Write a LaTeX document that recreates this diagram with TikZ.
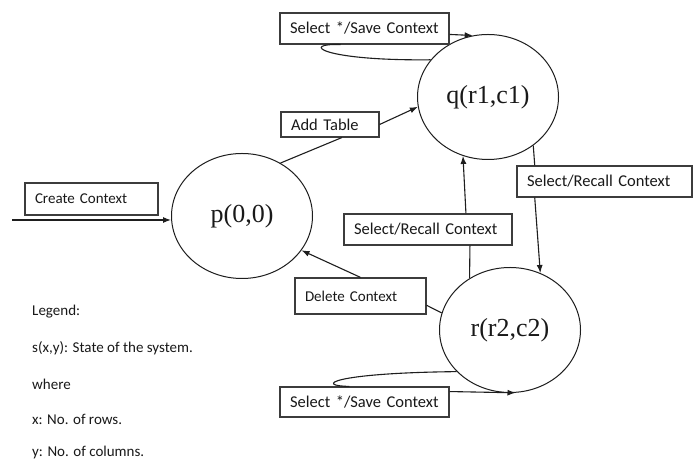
\documentclass[tikz,border=0pt]{standalone}
\usepackage{fontspec}
\setmainfont{Carlito}
\newfontfamily\statefont{Liberation Serif}
\usetikzlibrary{shapes.geometric,arrows.meta}
\definecolor{lineColor}{RGB}{30,30,30}
\definecolor{boxColor}{RGB}{60,60,60}
\definecolor{textColor}{RGB}{25,25,25}
\tikzset{
  state/.style={ellipse,draw=lineColor,line width=1pt,inner sep=0pt,minimum width=141pt,minimum height=125pt,text=textColor,font=\statefont\fontsize{26}{30}\selectfont},
  lbl/.style={rectangle,draw=boxColor,line width=1.2pt,inner xsep=10pt,inner ysep=0pt,align=left,text=textColor,font=\fontsize{16.5}{19}\selectfont},
  legend/.style={anchor=west,inner sep=0pt,text=textColor,font=\fontsize{15}{18}\selectfont},
  conn/.style={draw=lineColor,line width=1.1pt},
  >={Latex[length=8pt,width=6pt]}
}
\begin{document}
\begin{tikzpicture}[x=1pt,y=1pt]
\path[use as bounding box,fill=white] (0,0) rectangle (698,462);

\node[state] (p) at (242,246) {p(0,0)};
\node[state] (q) at (488,365) {q(r1,c1)};
\node[state] (r) at (510,132) {r(r2,c2)};

\node[lbl,text width=113pt,minimum height=32pt,font=\fontsize{15}{18}\selectfont] (create) at (91.5,263) {Create Context};
\node[lbl,text width=78pt,minimum height=25pt] (add) at (330,337.5) {Add Table};
\node[lbl,text width=149pt,minimum height=31pt] (savetop) at (364.5,433.5) {Select */Save Context};
\node[lbl,text width=155pt,minimum height=31pt] (recallright) at (604.5,280.5) {Select/Recall Context};
\node[lbl,text width=148pt,minimum height=31pt] (recallmid) at (428,232.5) {Select/Recall Context};
\node[lbl,text width=111pt,minimum height=36pt,font=\fontsize{15}{18}\selectfont] (delete) at (360.5,166) {Delete Context};
\node[lbl,text width=149pt,minimum height=30pt] (savebot) at (364.5,60) {Select */Save Context};

\coordinate (start) at (12,242);
\path[conn,->] (start) -- (start -| p.west);

\path[conn] (p.54) -- (add.-48);
\path[conn,->] (add.east) -- (q.188);

\path[conn] (q.147) .. controls (320,401) and (300,419) .. (savetop.-146);
\path[conn,->] (savetop.-4) -- (q.104);

\path[conn] (q.-47) -- (recallright.167);
\path[conn,->] (recallright.-167) -- (r.62);

\path[conn] (r.128) -- (recallmid.-21);
\path[conn,->] (recallmid.23) -- (q.-113);

\path[conn] (r.166) -- (delete.-8);
\path[conn,->] (delete.north) -- (p.-30);

\path[conn] (r.218) .. controls (330,89) and (315,76) .. (savebot.134);
\path[conn,->] (savebot.7) -- (r.-85);

\node[legend] (leg1) at (32,150) {Legend:};
\node[legend] (leg2) at (32,114) {s(x,y): State of the system.};
\node[legend] (leg3) at (32,78) {where};
\node[legend] (leg4) at (32,43) {x: No. of rows.};
\node[legend] (leg5) at (32,9) {y: No. of columns.};
\end{tikzpicture}
\end{document}
